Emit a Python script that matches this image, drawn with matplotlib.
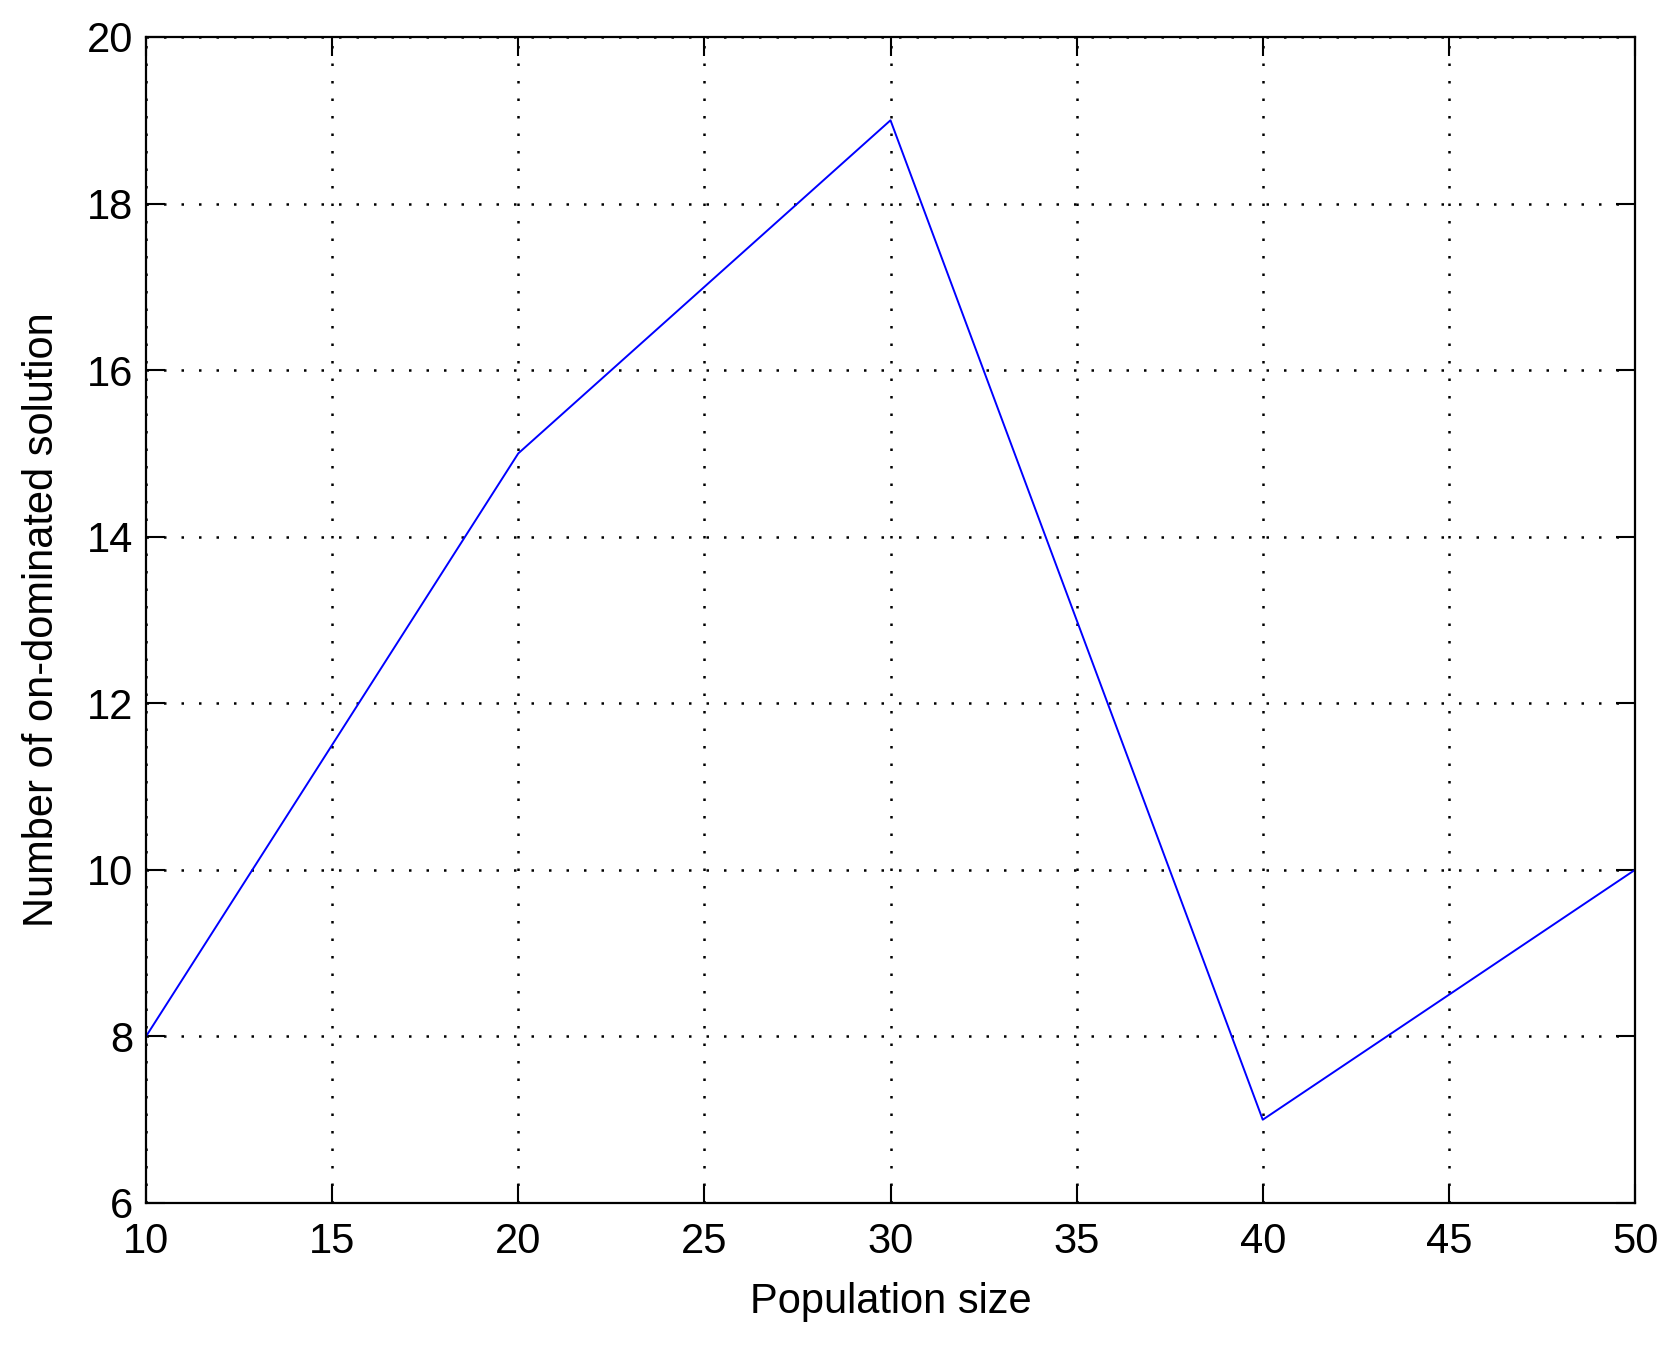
import matplotlib
matplotlib.use("Agg")
import matplotlib.pyplot as plt

# donnees
population = [10, 20, 30, 40, 50]
non_dominated = [8, 15, 19, 7, 10]
xticks = [10, 15, 20, 25, 30, 35, 40, 45, 50]
yticks = [6, 8, 10, 12, 14, 16, 18, 20]

plt.rcParams['font.family'] = ['Liberation Sans', 'DejaVu Sans']

fig = plt.figure(figsize=(16.72, 13.56), dpi=100)
ax = fig.add_axes([146 / 1672, 1 - 1203 / 1356, (1635 - 146) / 1672, (1203 - 37) / 1356])

ax.plot(population, non_dominated, color=(0, 0, 1), linewidth=1.4)

ax.set_xlim(10, 50)
ax.set_ylim(6, 20)
ax.set_xticks(xticks)
ax.set_yticks(yticks)
ax.tick_params(direction='in', length=14, width=1.5, labelsize=30,
               top=True, right=True)
ax.tick_params(axis='x', pad=14)
ax.tick_params(axis='y', pad=9)
ax.grid(True, color='black', linestyle=(0, (1, 6)), linewidth=1.8)
for s in ax.spines.values():
    s.set_linewidth(1.6)

ax.set_xlabel("Population size", fontsize=30, labelpad=14)
ax.set_ylabel("Number of on-dominated solution", fontsize=30, labelpad=18)

fig.savefig("out.png", dpi=100)
